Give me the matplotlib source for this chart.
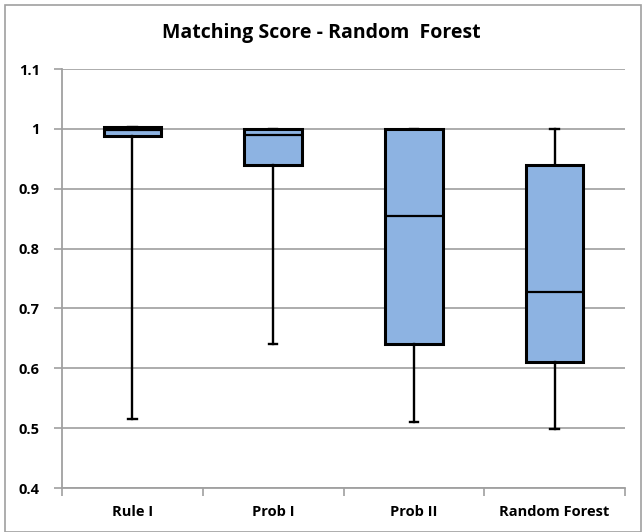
import matplotlib
matplotlib.use("Agg")
from matplotlib import pyplot as plt
from matplotlib.patches import Rectangle

categories = ["Rule I", "Prob I", "Prob II", "Random Forest"]
whisker_low = [0.516, 0.640, 0.510, 0.499]
q1 = [0.988, 0.940, 0.640, 0.610]
median = [0.999, 0.990, 0.855, 0.727]
q3 = [1.004, 1.000, 1.000, 0.940]
whisker_high = [1.004, 1.000, 1.000, 1.000]

plt.rcParams["font.family"] = ["Open Sans", "DejaVu Sans"]

fig = plt.figure(figsize=(6.42, 5.32), dpi=100)
ax = fig.add_axes([0.0966, 0.0827, 0.8769, 0.7873])

stats = []
for i, name in enumerate(categories):
    stats.append({
        "label": name,
        "whislo": whisker_low[i],
        "q1": q1[i],
        "med": median[i],
        "q3": q3[i],
        "whishi": whisker_high[i],
    })

ax.bxp(
    stats,
    positions=[0.5, 1.5, 2.5, 3.5],
    widths=0.41,
    showfliers=False,
    patch_artist=True,
    boxprops=dict(facecolor="#8db3e2", edgecolor="black", linewidth=2.2),
    medianprops=dict(color="black", linewidth=1.6),
    whiskerprops=dict(color="black", linewidth=1.7),
    capprops=dict(color="black", linewidth=1.7),
    capwidths=0.06,
    zorder=3,
)

ax.set_xlim(0, 4)
ax.set_ylim(0.4, 1.1)
ax.set_yticks([0.4, 0.5, 0.6, 0.7, 0.8, 0.9, 1.0, 1.1])
ax.set_yticklabels(["0.4", "0.5", "0.6", "0.7", "0.8", "0.9", "1", "1.1"],
                   fontsize=10.5, fontweight="bold")
ax.set_xticks([0, 1, 2, 3, 4])
ax.set_xticklabels([])
ax.set_xticks([0.5, 1.5, 2.5, 3.5], minor=True)
ax.set_xticklabels(categories, minor=True, fontsize=10.5, fontweight="bold")
ax.tick_params(axis="x", which="minor", length=0, pad=12)
ax.tick_params(axis="x", which="major", length=6, color="#a0a0a0", width=1.2)
ax.tick_params(axis="y", length=6, color="#a0a0a0", width=1.2, pad=10)

ax.grid(axis="y", color="#a6a6a6", linewidth=1.3, zorder=0)
ax.set_axisbelow(True)
for s in ["top", "right"]:
    ax.spines[s].set_visible(False)
for s in ["left", "bottom"]:
    ax.spines[s].set_color("#a0a0a0")
    ax.spines[s].set_linewidth(1.3)

fig.text(0.5, 0.938, "Matching Score - Random  Forest", ha="center", va="center",
         fontsize=14, fontweight="bold")

fig.patches.append(Rectangle((0.008, 0.0), 0.99, 0.99, transform=fig.transFigure,
                             fill=False, edgecolor="#a0a0a0", linewidth=1.2))

fig.savefig("out.png", dpi=100)
